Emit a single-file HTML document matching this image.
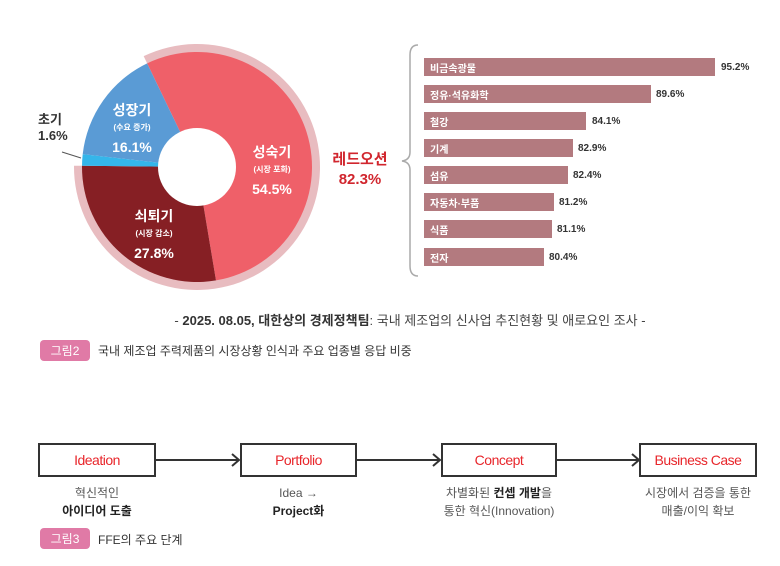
<!DOCTYPE html>
<html><head><meta charset="utf-8"><style>
body{margin:0;background:#fff;width:780px;height:566px;overflow:hidden;font-family:"Liberation Sans","Noto Sans CJK KR",sans-serif;position:relative}
.a{position:absolute;white-space:nowrap}
.bar{position:absolute;left:424px;height:18px;background:#b37a7f;color:#fff;font-size:10px;font-weight:bold;padding-left:6px;box-sizing:border-box;display:flex;align-items:center;white-space:nowrap}
.val{position:absolute;font-size:10px;font-weight:bold;color:#333;height:18px;display:flex;align-items:center}
.box{position:absolute;top:443px;height:34px;border:2px solid #333;box-sizing:border-box;color:#e8262b;font-size:14px;text-align:center;display:flex;align-items:center;justify-content:center;letter-spacing:-0.5px}
.sub{position:absolute;top:484px;font-size:12px;color:#555;text-align:center;line-height:18px}
.tag{position:absolute;left:40px;width:50px;height:21px;background:#e07aa6;color:#fff;font-size:12px;text-align:center;border-radius:4px;display:flex;align-items:center;justify-content:center}
</style></head><body>
<svg width="780" height="566" style="position:absolute;left:0;top:0" id="s"></svg>
<script>
function pt(r,a){a=a*Math.PI/180;return [197+r*Math.sin(a),167-r*Math.cos(a)];}
function sect(r0,r1,a0,a1,c){var p0=pt(r1,a0),p1=pt(r1,a1),p2=pt(r0,a1),p3=pt(r0,a0),l=(a1-a0)>180?1:0;
return '<path fill="'+c+'" d="M'+p0+' A'+r1+','+r1+' 0 '+l+' 1 '+p1+' L'+p2+' A'+r0+','+r0+' 0 '+l+' 0 '+p3+'Z"/>';}
var s='';
s+=sect(114,123,-25.7,270.6,'#e8bcc0');
s+=sect(0,115,-25.7,170.5,'#ef6069');
s+=sect(0,115,170.5,270.6,'#861f24');
s+=sect(0,115,270.6,276.4,'#35b6ea');
s+=sect(0,115,276.4,334.3,'#5a9bd5');
s+='<circle cx="197" cy="167" r="39" fill="#fff"/>';
s+='<line x1="62" y1="152" x2="81" y2="158" stroke="#555" stroke-width="1"/>';
s+='<path d="M418,45 Q410,45 410,55 L410,152 Q410,160 402,161 Q410,162 410,170 L410,266 Q410,276 418,276" fill="none" stroke="#aaa" stroke-width="1.5"/>';
s+='<line x1="155" y1="460" x2="238" y2="460" stroke="#333" stroke-width="2"/><path d="M232,454 L239,460 L232,466" fill="none" stroke="#333" stroke-width="2"/>';
s+='<line x1="356" y1="460" x2="439" y2="460" stroke="#333" stroke-width="2"/><path d="M433,454 L440,460 L433,466" fill="none" stroke="#333" stroke-width="2"/>';
s+='<line x1="556" y1="460" x2="638" y2="460" stroke="#333" stroke-width="2"/><path d="M632,454 L639,460 L632,466" fill="none" stroke="#333" stroke-width="2"/>';
document.getElementById('s').innerHTML=s;
</script>
<div class="a" style="left:38px;top:112px;font-size:13px;font-weight:bold;color:#333;line-height:16px">초기<br>1.6%</div>
<div class="a" style="left:100px;top:100px;width:64px;text-align:center;color:#fff;font-weight:bold"><div style="font-size:14px">성장기</div><div style="font-size:8px;margin-top:2px">(수요 증가)</div><div style="font-size:14px;margin-top:6px">16.1%</div></div>
<div class="a" style="left:240px;top:142px;width:64px;text-align:center;color:#fff;font-weight:bold"><div style="font-size:14px">성숙기</div><div style="font-size:8px;margin-top:2px">(시장 포화)</div><div style="font-size:14px;margin-top:6px">54.5%</div></div>
<div class="a" style="left:122px;top:206px;width:64px;text-align:center;color:#fff;font-weight:bold"><div style="font-size:14px">쇠퇴기</div><div style="font-size:8px;margin-top:2px">(시장 감소)</div><div style="font-size:14px;margin-top:6px">27.8%</div></div>
<div class="a" style="left:330px;top:150px;width:60px;text-align:center;color:#d1262e;font-weight:bold;font-size:15px;line-height:20px">레드오션<br>82.3%</div>
<div class="bar" style="top:58px;width:291px">비금속광물</div><div class="val" style="left:721px;top:58px">95.2%</div>
<div class="bar" style="top:85px;width:227px">정유·석유화학</div><div class="val" style="left:656px;top:85px">89.6%</div>
<div class="bar" style="top:112px;width:162px">철강</div><div class="val" style="left:592px;top:112px">84.1%</div>
<div class="bar" style="top:139px;width:149px">기계</div><div class="val" style="left:578px;top:139px">82.9%</div>
<div class="bar" style="top:166px;width:144px">섬유</div><div class="val" style="left:573px;top:166px">82.4%</div>
<div class="bar" style="top:193px;width:130px">자동차·부품</div><div class="val" style="left:559px;top:193px">81.2%</div>
<div class="bar" style="top:220px;width:128px">식품</div><div class="val" style="left:557px;top:220px">81.1%</div>
<div class="bar" style="top:248px;width:120px">전자</div><div class="val" style="left:549px;top:248px">80.4%</div>
<div class="a" style="left:0;width:820px;text-align:center;top:310px;font-size:13px;color:#444">- <b style="color:#333">2025. 08.05, 대한상의 경제정책팀</b>: 국내 제조업의 신사업 추진현황 및 애로요인 조사 -</div>
<div class="tag" style="top:340px">그림2</div>
<div class="a" style="left:98px;top:342px;font-size:12px;color:#333">국내 제조업 주력제품의 시장상황 인식과 주요 업종별 응답 비중</div>
<div class="box" style="left:38px;width:118px">Ideation</div>
<div class="box" style="left:240px;width:117px">Portfolio</div>
<div class="box" style="left:441px;width:116px">Concept</div>
<div class="box" style="left:639px;width:118px">Business Case</div>
<div class="sub" style="left:38px;width:118px">혁신적인<br><b style="color:#222">아이디어 도출</b></div>
<div class="sub" style="left:240px;width:117px">Idea →<br><b style="color:#222">Project화</b></div>
<div class="sub" style="left:421px;width:156px">차별화된 <b style="color:#222">컨셉 개발</b>을<br>통한 혁신(Innovation)</div>
<div class="sub" style="left:619px;width:158px">시장에서 검증을 통한<br>매출/이익 확보</div>
<div class="tag" style="top:528px">그림3</div>
<div class="a" style="left:98px;top:531px;font-size:12px;color:#333">FFE의 주요 단계</div>
</body></html>
